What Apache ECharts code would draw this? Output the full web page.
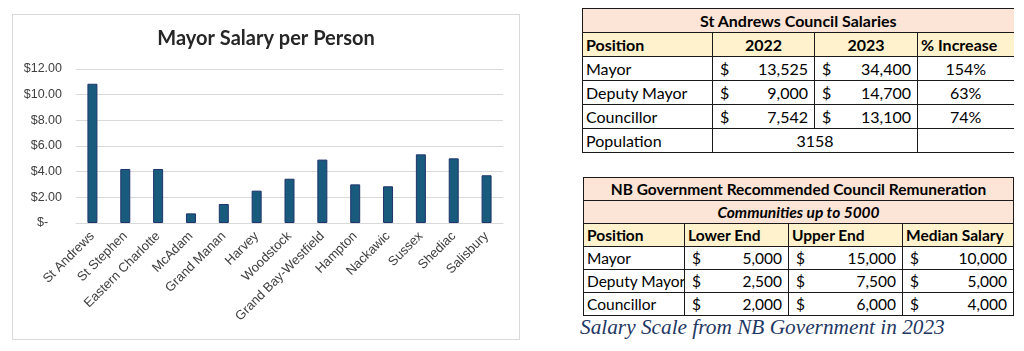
<!DOCTYPE html>
<html>
<head>
<meta charset="utf-8">
<script src="https://cdn.jsdelivr.net/npm/echarts@6/dist/echarts.min.js"></script>
<style>
  html, body { margin: 0; padding: 0; background: #fff; }
  body { width: 1024px; height: 351px; position: relative; overflow: hidden; font-family: Lato, "Noto Sans", sans-serif; }
  #chart { position: absolute; left: 12px; top: 14px; width: 508px; height: 326px; border: 1px solid #d9d9d9; box-sizing: border-box; }
  table { position: absolute; border-collapse: collapse; table-layout: fixed; color: #000; }
  td { border: 1px solid #1a1a1a; padding: 0 3px; white-space: nowrap; overflow: hidden; }
  .t1 td { font-size: 16px; height: 23px; }
  .t2 td { font-size: 15.5px; height: 22px; }
  .peach { background: #fce4d6; font-weight: bold; text-align: center; }
  .yellow td { background: #fff2cc; font-weight: bold; }
  .c { text-align: center; }
  .acct { display: flex; justify-content: space-between; padding: 0 6px 0 7px; }
  #caption { position: absolute; left: 580px; top: 315px; font: italic 21.3px "Liberation Serif", "DejaVu Serif", serif; color: #1f3864; white-space: nowrap; }
</style>
</head>
<body>
<div id="chart"></div>
<table class="t1" id="t1" style="left:582px; top:8px; width:431px;"></table>
<table class="t2" id="t2" style="left:583px; top:177px; width:430px;"></table>
<div id="caption">Salary Scale from NB Government in 2023</div>
<script>
// bar chart data
const towns = ["St Andrews", "St Stephen", "Eastern Charlotte", "McAdam", "Grand Manan", "Harvey",
  "Woodstock", "Grand Bay-Westfield", "Hampton", "Nackawic", "Sussex", "Shediac", "Salisbury"];
const mayorPerPerson = [10.85, 4.21, 4.21, 0.75, 1.48, 2.52, 3.45, 4.94, 3.01, 2.86, 5.35, 5.04, 3.72];

// St Andrews table
const positions = ["Mayor", "Deputy Mayor", "Councillor"];
const salary2022 = [13525, 9000, 7542];
const salary2023 = [34400, 14700, 13100];
const pctIncrease = [154, 63, 74];
const population = 3158;

// NB government table
const lowerEnd = [5000, 2500, 2000];
const upperEnd = [15000, 7500, 6000];
const medianSalary = [10000, 5000, 4000];

const fmt = (n) => n.toLocaleString("en-US");
const acct = (n) => `<div class="acct"><span>$</span><span>${fmt(n)}</span></div>`;

function buildTable1() {
  let html = `<colgroup><col style="width:130px"><col style="width:102px"><col style="width:103px"><col style="width:96px"></colgroup>`;
  html += `<tr><td colspan="4" class="peach" style="border-right:none">St Andrews Council Salaries</td></tr>`;
  html += `<tr class="yellow"><td>Position</td><td class="c">2022</td><td class="c">2023</td><td style="border-right:none">% Increase</td></tr>`;
  positions.forEach((p, i) => {
    html += `<tr><td>${p}</td><td style="padding:0">${acct(salary2022[i])}</td><td style="padding:0">${acct(salary2023[i])}</td><td class="c" style="border-right:none">${pctIncrease[i]}%</td></tr>`;
  });
  html += `<tr><td>Population</td><td colspan="2" class="c">${population}</td><td style="border-right:none"></td></tr>`;
  document.getElementById("t1").innerHTML = html;
}

function buildTable2() {
  let html = `<colgroup><col style="width:101px"><col style="width:104px"><col style="width:114px"><col style="width:111px"></colgroup>`;
  html += `<tr><td colspan="4" class="peach">NB Government Recommended Council Remuneration</td></tr>`;
  html += `<tr><td colspan="4" class="peach" style="font-style:italic">Communities up to 5000</td></tr>`;
  html += `<tr class="yellow"><td>Position</td><td>Lower End</td><td>Upper End</td><td>Median Salary</td></tr>`;
  positions.forEach((p, i) => {
    html += `<tr><td>${p}</td><td style="padding:0">${acct(lowerEnd[i])}</td><td style="padding:0">${acct(upperEnd[i])}</td><td style="padding:0">${acct(medianSalary[i])}</td></tr>`;
  });
  document.getElementById("t2").innerHTML = html;
}

buildTable1();
buildTable2();

const chart = echarts.init(document.getElementById("chart"), null, { renderer: "canvas" });
chart.setOption({
  animation: false,
  title: {
    text: "Mayor Salary per Person",
    left: "center",
    top: 9,
    textStyle: { fontFamily: "Lato", fontWeight: "bold", fontSize: 20, color: "#262626" }
  },
  grid: { left: 63, right: 16, top: 54, bottom: 116, containLabel: false },
  xAxis: {
    type: "category",
    data: towns,
    axisLine: { lineStyle: { color: "#d9d9d9" } },
    axisTick: { show: false },
    axisLabel: {
      rotate: 45, interval: 0, margin: 11,
      fontFamily: "Liberation Sans", fontSize: 13, color: "#404040"
    }
  },
  yAxis: {
    type: "value",
    min: 0, max: 12, interval: 2,
    axisLine: { show: false },
    axisTick: { show: false },
    splitLine: { lineStyle: { color: "#d9d9d9" } },
    axisLabel: {
      margin: 14,
      fontFamily: "Liberation Sans", fontSize: 12.5, color: "#404040",
      formatter: (v) => (v === 0 ? "$-    " : "$" + v.toFixed(2))
    }
  },
  series: [{
    type: "bar",
    data: mayorPerPerson,
    barWidth: 10,
    itemStyle: { color: "#195b7c", borderColor: "#1f346c", borderWidth: 1 }
  }]
});
</script>
</body>
</html>
